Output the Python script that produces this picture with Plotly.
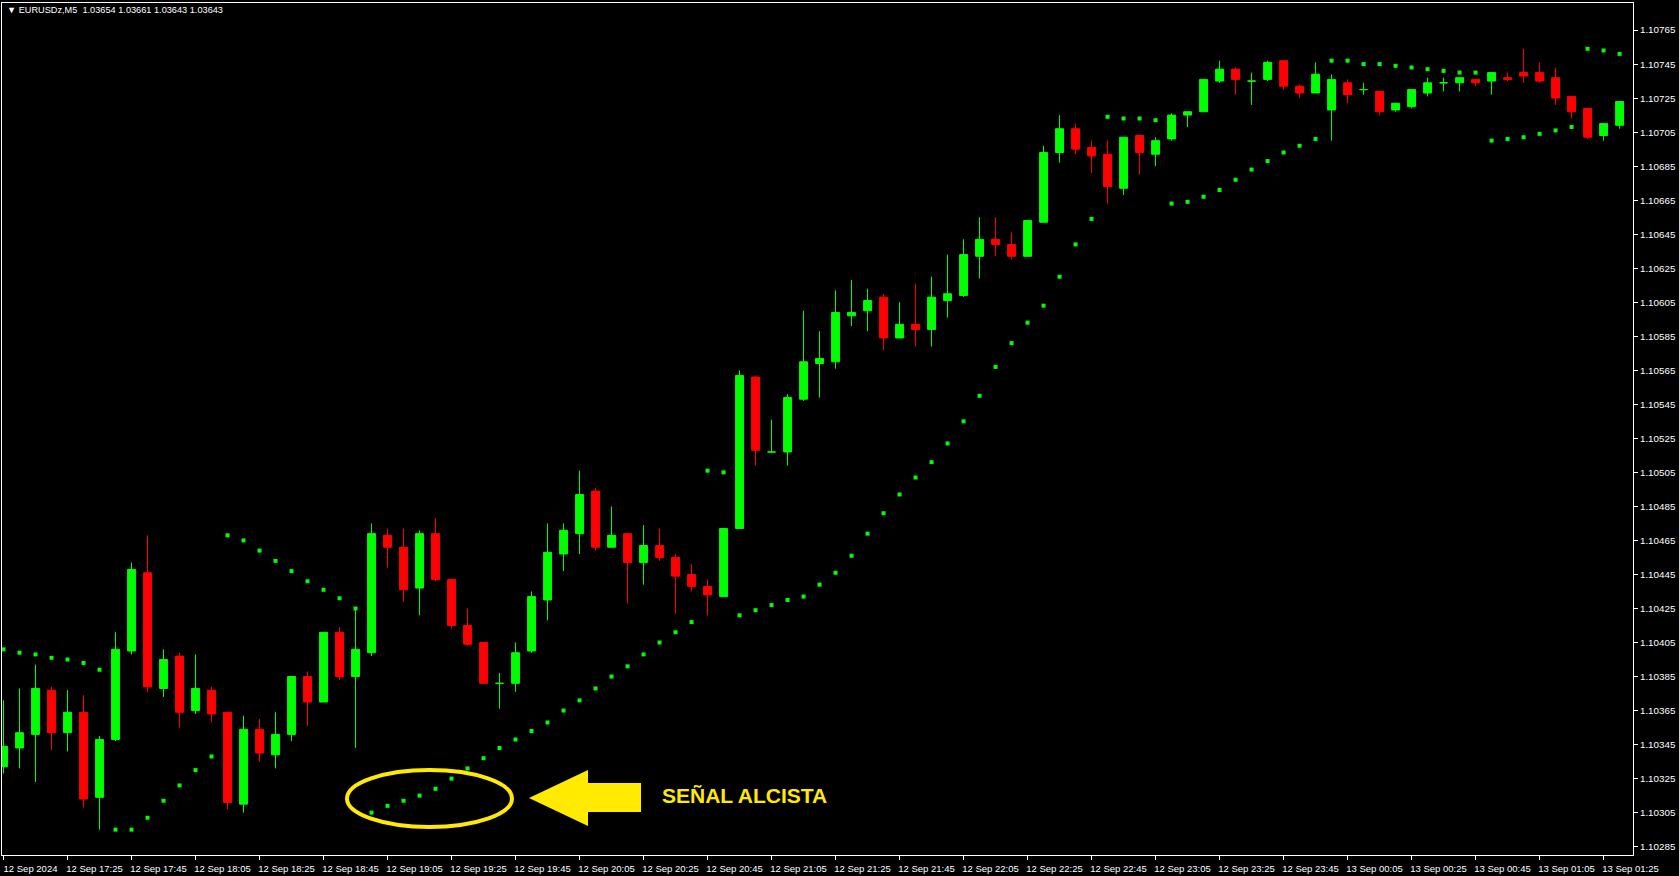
import plotly.graph_objects as go
import pandas as pd

# ---------------- data ----------------
header_text = "▼ EURUSDz,M5 &nbsp;1.03654 1.03661 1.03643 1.03643"
signal_text = "SEÑAL ALCISTA"
start_time = "2024-09-12 17:05"

opens = [1.10332, 1.10343, 1.10351, 1.10377, 1.10352, 1.10364, 1.10314, 1.10348, 1.10400, 1.10446,
         1.10378, 1.10397, 1.10365, 1.10377, 1.10364, 1.10310, 1.10354, 1.10339, 1.10351, 1.10385,
         1.10370, 1.10411, 1.10385, 1.10399, 1.10468, 1.10461, 1.10437, 1.10469, 1.10442, 1.10415,
         1.10405, 1.10381, 1.10381, 1.10400, 1.10430, 1.10457, 1.10469, 1.10494, 1.10461, 1.10469,
         1.10452, 1.10462, 1.10455, 1.10445, 1.10438, 1.10432, 1.10472, 1.10561, 1.10517, 1.10517,
         1.10548, 1.10569, 1.10570, 1.10597, 1.10600, 1.10608, 1.10584, 1.10592, 1.10589, 1.10606,
         1.10609, 1.10632, 1.10642, 1.10639, 1.10632, 1.10652, 1.10693, 1.10707, 1.10696, 1.10692,
         1.10672, 1.10703, 1.10692, 1.10701, 1.10715, 1.10717, 1.10735, 1.10742, 1.10735, 1.10736,
         1.10747, 1.10732, 1.10728, 1.10718, 1.10734, 1.10730, 1.10729, 1.10718, 1.10720, 1.10728,
         1.10734, 1.10734, 1.10736, 1.10735, 1.10737, 1.10740, 1.10740, 1.10737, 1.10726, 1.10719,
         1.10703, 1.10709]
highs = [1.10371, 1.10378, 1.10392, 1.10379, 1.10377, 1.10374, 1.10350, 1.10411, 1.10452, 1.10468,
         1.10401, 1.10399, 1.10398, 1.10379, 1.10364, 1.10362, 1.10360, 1.10364, 1.10385, 1.10388,
         1.10411, 1.10414, 1.10424, 1.10475, 1.10472, 1.10472, 1.10471, 1.10478, 1.10442, 1.10425,
         1.10405, 1.10387, 1.10405, 1.10435, 1.10475, 1.10475, 1.10506, 1.10496, 1.10485, 1.10469,
         1.10474, 1.10472, 1.10457, 1.10451, 1.10442, 1.10472, 1.10565, 1.10562, 1.10536, 1.10551,
         1.10600, 1.10588, 1.10612, 1.10618, 1.10613, 1.10610, 1.10605, 1.10616, 1.10620, 1.10633,
         1.10642, 1.10655, 1.10655, 1.10646, 1.10653, 1.10697, 1.10715, 1.10710, 1.10700, 1.10700,
         1.10702, 1.10703, 1.10702, 1.10716, 1.10717, 1.10736, 1.10747, 1.10743, 1.10740, 1.10747,
         1.10747, 1.10733, 1.10746, 1.10739, 1.10736, 1.10734, 1.10729, 1.10722, 1.10730, 1.10737,
         1.10737, 1.10737, 1.10736, 1.10740, 1.10740, 1.10754, 1.10746, 1.10743, 1.10726, 1.10719,
         1.10710, 1.10723]
lows = [1.10328, 1.10331, 1.10323, 1.10342, 1.10341, 1.10308, 1.10295, 1.10347, 1.10398, 1.10376,
        1.10373, 1.10355, 1.10363, 1.10358, 1.10307, 1.10305, 1.10335, 1.10331, 1.10347, 1.10356,
        1.10370, 1.10383, 1.10343, 1.10397, 1.10449, 1.10429, 1.10421, 1.10441, 1.10413, 1.10403,
        1.10381, 1.10366, 1.10376, 1.10399, 1.10418, 1.10447, 1.10457, 1.10459, 1.10461, 1.10428,
        1.10439, 1.10453, 1.10422, 1.10435, 1.10421, 1.10432, 1.10472, 1.10509, 1.10517, 1.10509,
        1.10547, 1.10549, 1.10566, 1.10591, 1.10588, 1.10577, 1.10584, 1.10579, 1.10579, 1.10596,
        1.10608, 1.10619, 1.10632, 1.10630, 1.10632, 1.10652, 1.10687, 1.10692, 1.10681, 1.10663,
        1.10668, 1.10680, 1.10685, 1.10700, 1.10708, 1.10717, 1.10734, 1.10727, 1.10721, 1.10735,
        1.10730, 1.10725, 1.10728, 1.10700, 1.10722, 1.10727, 1.10715, 1.10717, 1.10719, 1.10726,
        1.10729, 1.10729, 1.10732, 1.10727, 1.10735, 1.10734, 1.10734, 1.10721, 1.10713, 1.10701,
        1.10700, 1.10707]
closes = [1.10344, 1.10352, 1.10378, 1.10352, 1.10364, 1.10313, 1.10348, 1.10401, 1.10448, 1.10379,
          1.10395, 1.10364, 1.10378, 1.10363, 1.10311, 1.10354, 1.10340, 1.10351, 1.10385, 1.10370,
          1.10411, 1.10385, 1.10401, 1.10469, 1.10461, 1.10436, 1.10469, 1.10442, 1.10415, 1.10404,
          1.10381, 1.10381, 1.10399, 1.10432, 1.10458, 1.10471, 1.10492, 1.10461, 1.10468, 1.10452,
          1.10462, 1.10455, 1.10444, 1.10438, 1.10433, 1.10472, 1.10562, 1.10518, 1.10517, 1.10549,
          1.10570, 1.10572, 1.10599, 1.10599, 1.10606, 1.10584, 1.10592, 1.10589, 1.10608, 1.10610,
          1.10633, 1.10642, 1.10639, 1.10632, 1.10653, 1.10693, 1.10707, 1.10695, 1.10691, 1.10673,
          1.10702, 1.10693, 1.10700, 1.10715, 1.10717, 1.10736, 1.10742, 1.10736, 1.10735, 1.10746,
          1.10732, 1.10728, 1.10739, 1.10736, 1.10727, 1.10730, 1.10717, 1.10722, 1.10730, 1.10734,
          1.10734, 1.10737, 1.10734, 1.10740, 1.10736, 1.10738, 1.10735, 1.10725, 1.10717, 1.10702,
          1.10710, 1.10723]
sar = [1.10401, 1.10399, 1.10398, 1.10396, 1.10395, 1.10393, 1.10389, 1.10295, 1.10295, 1.10302,
       1.10312, 1.10321, 1.10330, 1.10338, 1.10468, 1.10465, 1.10459, 1.10453, 1.10447, 1.10441,
       1.10436, 1.10431, 1.10425, 1.10305, 1.10309, 1.10312, 1.10315, 1.10319, 1.10325, 1.10331,
       1.10337, 1.10343, 1.10348, 1.10353, 1.10358, 1.10365, 1.10371, 1.10378, 1.10385, 1.10391,
       1.10398, 1.10405, 1.10411, 1.10417, 1.10506, 1.10505, 1.10421, 1.10424, 1.10427, 1.10430,
       1.10432, 1.10439, 1.10446, 1.10456, 1.10469, 1.10481, 1.10492, 1.10502, 1.10511, 1.10522,
       1.10535, 1.10550, 1.10567, 1.10581, 1.10593, 1.10603, 1.10620, 1.10639, 1.10654, 1.10714,
       1.10713, 1.10713, 1.10712, 1.10663, 1.10664, 1.10667, 1.10671, 1.10677, 1.10683, 1.10688,
       1.10693, 1.10697, 1.10701, 1.10747, 1.10747, 1.10745, 1.10745, 1.10744, 1.10743, 1.10742,
       1.10741, 1.10740, 1.10740, 1.10700, 1.10701, 1.10702, 1.10704, 1.10706, 1.10708, 1.10754,
       1.10753, 1.10751]
x_tick_labels = ["12 Sep 2024", "12 Sep 17:25", "12 Sep 17:45", "12 Sep 18:05", "12 Sep 18:25",
                 "12 Sep 18:45", "12 Sep 19:05", "12 Sep 19:25", "12 Sep 19:45", "12 Sep 20:05",
                 "12 Sep 20:25", "12 Sep 20:45", "12 Sep 21:05", "12 Sep 21:25", "12 Sep 21:45",
                 "12 Sep 22:05", "12 Sep 22:25", "12 Sep 22:45", "12 Sep 23:05", "12 Sep 23:25",
                 "12 Sep 23:45", "13 Sep 00:05", "13 Sep 00:25", "13 Sep 00:45", "13 Sep 01:05",
                 "13 Sep 01:25"]
y_tick_start = 1.10285
y_tick_step = 0.0002
y_range = [1.102801, 1.107809]

# ---------------- styles ----------------
GREEN = "#00FF00"
RED = "#FF0000"
YELLOW = "#FFEA00"
FONT = "Liberation Sans"

times = pd.date_range(start_time, periods=len(opens), freq="5min")
bar = pd.Timedelta(minutes=5)
x_range = [times[0] - 0.094 * bar, times[-1] + 0.84 * bar]

fig = go.Figure()

for color, want_up in ((GREEN, True), (RED, False)):
    idx = [i for i in range(len(opens)) if (closes[i] >= opens[i]) == want_up]
    style = dict(line=dict(color=color, width=1), fillcolor=color)
    fig.add_trace(go.Candlestick(
        x=[times[i] for i in idx],
        open=[opens[i] for i in idx], high=[highs[i] for i in idx],
        low=[lows[i] for i in idx], close=[closes[i] for i in idx],
        increasing=style, decreasing=style, whiskerwidth=0,
        showlegend=False, hoverinfo="skip"))

fig.add_trace(go.Scatter(
    x=times, y=sar, mode="markers",
    marker=dict(symbol="square", size=4, color=GREEN, line=dict(width=0)),
    showlegend=False, hoverinfo="skip"))

# plot area in pixels: x 2..1633, y 3..855
PL, PR, PT, PB = 2, 1633, 3, 855
def px(x):
    return (x - PL) / (PR - PL)
def py(y):
    return (PB - y) / (PB - PT)

shapes = [
    dict(type="circle", xref="paper", yref="paper",
         x0=px(347), x1=px(512), y0=py(827), y1=py(770),
         line=dict(color=YELLOW, width=4)),
    dict(type="path", xref="paper", yref="paper",
         path=("M {:.4f},{:.4f} L {:.4f},{:.4f} L {:.4f},{:.4f} L {:.4f},{:.4f} "
               "L {:.4f},{:.4f} L {:.4f},{:.4f} L {:.4f},{:.4f} Z").format(
             px(529), py(798), px(588), py(770), px(588), py(783), px(641), py(783),
             px(641), py(812), px(588), py(812), px(588), py(826)),
         fillcolor=YELLOW, line=dict(width=0)),
]

annotations = [
    dict(text=header_text, xref="paper", yref="paper", x=px(5), y=py(10),
         xanchor="left", yanchor="middle", showarrow=False,
         font=dict(family=FONT, size=9.2, color="white")),
    dict(text="<b>" + signal_text + "</b>", xref="paper", yref="paper",
         x=px(660), y=py(795), xanchor="left", yanchor="middle", showarrow=False,
         font=dict(family=FONT, size=21, color=YELLOW)),
]

fig.update_layout(
    width=1679, height=876,
    margin=dict(l=PL, r=1679 - PR, t=PT, b=876 - PB, pad=0),
    paper_bgcolor="black", plot_bgcolor="black",
    font=dict(family=FONT, size=9.5, color="white"),
    shapes=shapes, annotations=annotations, showlegend=False,
    xaxis=dict(
        type="date", range=x_range, rangeslider=dict(visible=False),
        showgrid=False, zeroline=False,
        showline=True, mirror=True, linecolor="white", linewidth=1,
        ticks="outside", ticklen=4, tickcolor="white", tickwidth=1,
        tickvals=list(times[::4]), ticktext=x_tick_labels,
        ticklabelshift=27, ticklabelstandoff=1,
        tickfont=dict(family=FONT, size=9.5, color="white"),
    ),
    yaxis=dict(
        side="right", range=y_range, showgrid=False, zeroline=False,
        showline=True, mirror=True, linecolor="white", linewidth=1,
        ticks="outside", ticklen=4, tickcolor="white", tickwidth=1,
        tick0=y_tick_start, dtick=y_tick_step, tickformat=".5f",
        tickfont=dict(family=FONT, size=9.8, color="white"),
    ),
)

fig.write_html("out.html", post_script="document.body.style.margin='0';",
               config={"displayModeBar": False})
